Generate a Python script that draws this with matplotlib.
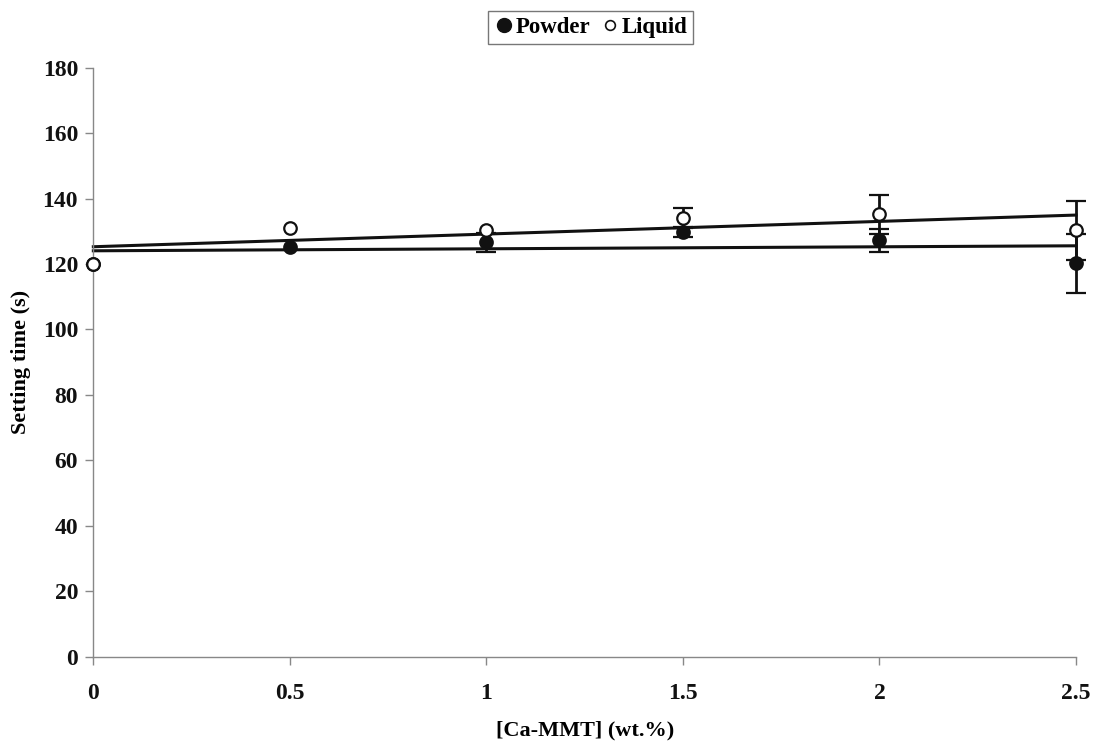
import numpy as np
import matplotlib
matplotlib.use("Agg")
import matplotlib.pyplot as plt
from matplotlib.lines import Line2D

plt.rcParams['font.family'] = ['Liberation Serif', 'DejaVu Serif']
plt.rcParams['font.weight'] = 'bold'

conc = [0, 0.5, 1, 1.5, 2, 2.5]
powder = [120, 125.1, 126.6, 129.7, 127.3, 120.2]
powder_err = [0, 0, 3.0, 1.5, 3.5, 9.0]
liquid = [120, 131.0, 130.3, 134.0, 135.2, 130.3]
liquid_err = [0, 0, 0, 3.0, 6.0, 9.0]
xticks = [0, 0.5, 1, 1.5, 2, 2.5]
xtick_labels = ['0', '0.5', '1', '1.5', '2', '2.5']
yticks = [0, 20, 40, 60, 80, 100, 120, 140, 160, 180]

fig = plt.figure(figsize=(10.98, 7.53), dpi=100)
ax = fig.add_axes([0.085, 0.128, 0.895, 0.782])

# trend lines (linear fits)
xs = np.array([conc[0], conc[-1]])
for y in (powder, liquid):
    p = np.polyfit(conc, y, 1)
    ax.plot(xs, np.polyval(p, xs), color='#111111', lw=2.2, zorder=2,
            clip_on=False)

for vals, errs, face, z in ((powder, powder_err, '#111111', 3),
                            (liquid, liquid_err, 'white', 4)):
    e = np.array(errs, dtype=float)
    e = np.where(e > 0, e, np.nan)
    cont = ax.errorbar(conc, vals, yerr=e, fmt='o', color='#111111',
                       mfc=face, mec='#111111', mew=1.6, ms=9, capsize=7,
                       elinewidth=2, capthick=2, zorder=z)
    arts = [cont.lines[0]] + list(cont.lines[1]) + list(cont.lines[2])
    for art in arts:
        art.set_clip_on(False)

ax.set_xlim(0, 2.5)
ax.set_ylim(0, 180)
ax.set_xticks(xticks)
ax.set_xticklabels(xtick_labels)
ax.set_yticks(yticks)
for s in ('top', 'right'):
    ax.spines[s].set_visible(False)
for s in ('left', 'bottom'):
    ax.spines[s].set_color('#888888')
    ax.spines[s].set_linewidth(1.0)
ax.tick_params(axis='both', colors='#888888', labelcolor='#111111',
               labelsize=17, length=6, width=1)
ax.tick_params(axis='x', pad=13)
ax.tick_params(axis='y', pad=5)
ax.set_xlabel('[Ca-MMT] (wt.%)', fontsize=16, fontweight='bold', labelpad=12)
ax.set_ylabel('Setting time (s)', fontsize=16, fontweight='bold', labelpad=8)

h = [Line2D([], [], marker='o', ls='none', color='#111111', mfc='#111111', ms=10),
     Line2D([], [], marker='o', ls='none', color='#111111', mfc='white',
            mew=1.2, ms=7)]
leg = fig.legend(h, ['Powder', 'Liquid'], loc='upper center',
                 bbox_to_anchor=(0.538, 1.0), ncol=2, frameon=True,
                 fancybox=False, edgecolor='#555555', fontsize=16.5,
                 handletextpad=0.05, columnspacing=0.4, borderpad=0.25,
                 handlelength=0.9)
leg.get_frame().set_linewidth(1.0)

fig.savefig('out.png', dpi=100, facecolor='white')
